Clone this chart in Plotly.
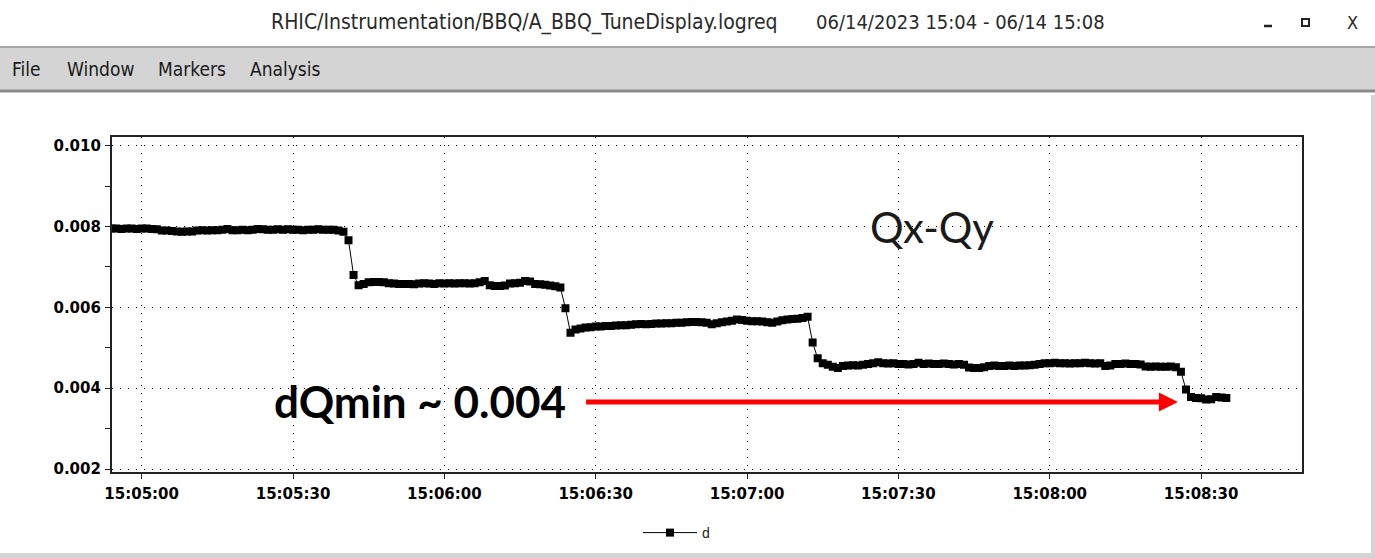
import pandas as pd
import plotly.graph_objects as go

# Logged tune split Qx-Qy ("d"), sampled once per second from 15:04:54
start_time = "2023-06-14 15:04:54"
d_values = [
    0.00795, 0.00795, 0.00794, 0.00795, 0.00795, 0.00794, 0.00795, 0.00795, 0.00794, 0.00793,
    0.00790, 0.00790, 0.00789,
    0.00788, 0.00787, 0.00788, 0.00788,
    0.00790, 0.00791, 0.00790, 0.00791, 0.00791, 0.00792,
    0.00794,
    0.00791, 0.00791, 0.00792, 0.00791, 0.00792,
    0.00794, 0.00793, 0.00792, 0.00792, 0.00793,
    0.00792, 0.00793, 0.00792, 0.00792, 0.00791, 0.00792, 0.00792, 0.00793, 0.00792, 0.00792, 0.00792,
    0.00790, 0.00787, 0.00766, 0.00680, 0.00655, 0.00658,
    0.00662, 0.00663, 0.00663, 0.00662,
    0.00660, 0.00659, 0.00658, 0.00658, 0.00658, 0.00657,
    0.00659, 0.00660, 0.00659, 0.00658, 0.00660, 0.00659, 0.00660,
    0.00659, 0.00660, 0.00660, 0.00659, 0.00660, 0.00662, 0.00665,
    0.00655, 0.00653, 0.00653, 0.00654,
    0.00659, 0.00660, 0.00661, 0.00665,
    0.00664, 0.00658, 0.00657, 0.00656, 0.00654, 0.00652, 0.00649,
    0.00598, 0.00537,
    0.00545, 0.00548, 0.00550, 0.00551, 0.00553,
    0.00553, 0.00554, 0.00554, 0.00555, 0.00556, 0.00556, 0.00557, 0.00558,
    0.00559, 0.00558, 0.00559, 0.00560, 0.00560, 0.00561, 0.00561, 0.00562, 0.00562, 0.00563,
    0.00564, 0.00564, 0.00563, 0.00562, 0.00558,
    0.00561, 0.00563, 0.00565, 0.00567, 0.00570,
    0.00569, 0.00567, 0.00566,
    0.00566, 0.00565, 0.00563, 0.00562,
    0.00565, 0.00568, 0.00570, 0.00571, 0.00572, 0.00574,
    0.00577, 0.00513, 0.00474, 0.00462, 0.00458, 0.00453, 0.00450,
    0.00455, 0.00456, 0.00457, 0.00456, 0.00458,
    0.00460, 0.00462, 0.00464, 0.00462, 0.00461, 0.00462, 0.00460,
    0.00460, 0.00459, 0.00460, 0.00463,
    0.00460, 0.00461, 0.00460, 0.00460, 0.00461, 0.00460, 0.00459, 0.00460, 0.00458,
    0.00451, 0.00450, 0.00450, 0.00452,
    0.00455, 0.00456, 0.00455, 0.00455, 0.00456, 0.00455, 0.00456, 0.00456, 0.00457, 0.00458,
    0.00460, 0.00462, 0.00462, 0.00463, 0.00462, 0.00462, 0.00461, 0.00462, 0.00462, 0.00463,
    0.00462, 0.00461, 0.00462,
    0.00455, 0.00456,
    0.00460, 0.00460, 0.00461, 0.00460, 0.00460, 0.00459,
    0.00454, 0.00453, 0.00454, 0.00453, 0.00453, 0.00454, 0.00452,
    0.00441, 0.00397, 0.00378, 0.00376, 0.00375, 0.00372, 0.00373, 0.00378, 0.00377, 0.00376,
]
times = pd.date_range(start_time, periods=len(d_values), freq="1s")

x_range = ["2023-06-14 15:04:54.06", "2023-06-14 15:08:50.0"]
y_range = [0.00194, 0.010215]
y_ticks = [0.002, 0.004, 0.006, 0.008, 0.010]
x_tick0 = "2023-06-14 15:05:00"

window_title = "RHIC/Instrumentation/BBQ/A_BBQ_TuneDisplay.logreq"
window_span = "06/14/2023 15:04 - 06/14 15:08"
menu_items = [("File", 10), ("Window", 65), ("Markers", 156), ("Analysis", 248)]

dqmin_text = "dQmin ~ 0.004"
dqmin_level = 0.00366
arrow_from = "2023-06-14 15:06:27.8"
arrow_to = "2023-06-14 15:08:25.4"

W, H = 1375, 558


def px(x):
    return x / W


def py(y):
    return 1 - y / H


UI_FONT = "Liberation Sans Narrow, DejaVu Sans Condensed, Liberation Sans, sans-serif"
SLIDE_FONT = "Lato, Open Sans, sans-serif"
AXIS_FONT = "DejaVu Sans, Liberation Sans, sans-serif"

fig = go.Figure()
fig.add_trace(go.Scatter(
    x=times, y=d_values, name="d", mode="lines+markers",
    line=dict(color="black", width=1),
    marker=dict(symbol="square", size=8, color="black", line=dict(width=0)),
))

grid_dash = "1px,7px"
fig.update_xaxes(
    domain=[px(111.7), px(1302)], range=x_range, type="date", automargin=False,
    tick0=x_tick0, dtick=30000, tickformat="%H:%M:%S",
    showgrid=True, gridcolor="black", gridwidth=1, griddash=grid_dash,
    showline=True, linecolor="#222", linewidth=1.5, mirror=True,
    ticks="outside", ticklen=6, tickcolor="#222", tickwidth=1,
    tickfont=dict(family=AXIS_FONT, size=15, color="black", weight="bold"),
    ticklabelstandoff=2, zeroline=False,
)
fig.update_yaxes(
    domain=[py(471.5), py(137)], range=y_range, automargin=False,
    tickvals=y_ticks, tickformat=".3f",
    minor=dict(dtick=0.001, tick0=0.001, ticks="outside", ticklen=5, tickcolor="#222", showgrid=False),
    showgrid=True, gridcolor="black", gridwidth=1, griddash=grid_dash,
    showline=True, linecolor="#222", linewidth=1.5, mirror=True,
    ticks="outside", ticklen=5, tickcolor="#222", tickwidth=1,
    tickfont=dict(family=AXIS_FONT, size=15, color="black", weight="bold"),
    ticklabelstandoff=1, zeroline=False,
)

shapes = [
    # menu bar
    dict(type="rect", xref="paper", yref="paper", x0=0, x1=1, y0=py(90), y1=py(47),
         fillcolor="#d4d4d4", line=dict(width=0), layer="below"),
    dict(type="line", xref="paper", yref="paper", x0=0, x1=1, y0=py(47), y1=py(47),
         line=dict(color="#a6a6a6", width=2)),
    dict(type="line", xref="paper", yref="paper", x0=0, x1=1, y0=py(91), y1=py(91),
         line=dict(color="#8a8a8a", width=3)),
    # bottom and right window edges
    dict(type="rect", xref="paper", yref="paper", x0=0, x1=1, y0=0, y1=py(553),
         fillcolor="#d4d4d4", line=dict(width=0), layer="below"),
    dict(type="rect", xref="paper", yref="paper", x0=px(1371), x1=1, y0=0, y1=py(95),
         fillcolor="#d4d4d4", line=dict(width=0), layer="below"),
    # title-bar buttons
    dict(type="line", xref="paper", yref="paper", x0=px(1264), x1=px(1272), y0=py(26), y1=py(26),
         line=dict(color="#222", width=2.5)),
    dict(type="rect", xref="paper", yref="paper", x0=px(1302), x1=px(1309), y0=py(26), y1=py(19),
         fillcolor="white", line=dict(color="#222", width=2)),
]

annotations = [
    dict(text=window_title, x=px(524), y=py(22), xref="paper", yref="paper", showarrow=False,
         font=dict(family=UI_FONT, size=21, color="#2a2a2a"), xanchor="center", yanchor="middle"),
    dict(text=window_span, x=px(960), y=py(22), xref="paper", yref="paper", showarrow=False,
         font=dict(family=UI_FONT, size=20, color="#2a2a2a"), xanchor="center", yanchor="middle"),
    dict(text="X", x=px(1352), y=py(22), xref="paper", yref="paper", showarrow=False,
         font=dict(family=UI_FONT, size=18, color="#2a2a2a"), xanchor="center", yanchor="middle"),
    dict(text="Qx-Qy", x=px(932), y=py(227), xref="paper", yref="paper", showarrow=False,
         font=dict(family=SLIDE_FONT, size=42, color="#1a1a1a"), xanchor="center", yanchor="middle"),
    dict(text="<b>" + dqmin_text + "</b>", x=px(420), y=py(401), xref="paper", yref="paper",
         showarrow=False, font=dict(family=SLIDE_FONT, size=44, color="black"),
         xanchor="center", yanchor="middle"),
    dict(text="", x=arrow_to, y=dqmin_level, ax=arrow_from, ay=dqmin_level,
         xref="x", yref="y", axref="x", ayref="y", showarrow=True,
         arrowhead=2, arrowsize=0.76, arrowwidth=5, arrowcolor="#ff0000", standoff=0),
]
for label, left in menu_items:
    annotations.append(dict(text=label, x=px(left), y=py(69), xref="paper", yref="paper",
                            showarrow=False, xanchor="left", yanchor="middle",
                            font=dict(family=UI_FONT, size=19, color="#1a1a1a")))

fig.update_layout(
    width=W, height=H, margin=dict(l=0, r=0, t=0, b=0, autoexpand=False),
    paper_bgcolor="white", plot_bgcolor="white",
    shapes=shapes, annotations=annotations,
    showlegend=True,
    legend=dict(orientation="h", x=px(638), y=py(533), xanchor="left", yanchor="middle",
                itemwidth=54, font=dict(family="Liberation Sans, sans-serif", size=14, color="#222"),
                bgcolor="rgba(0,0,0,0)"),
)

fig.write_html("out.html")
